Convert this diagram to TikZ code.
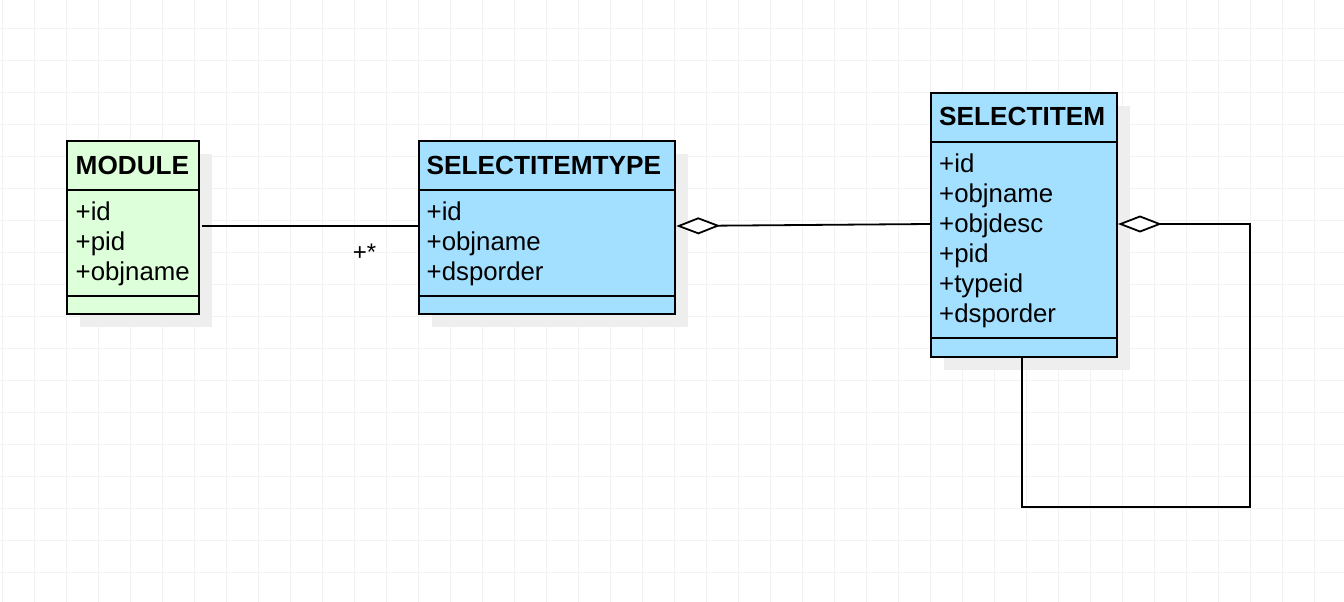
\documentclass[tikz,border=0pt]{standalone}
\usepackage{fontspec}
\setmainfont{Liberation Sans}
\usetikzlibrary{arrows.meta}
\definecolor{gridc}{RGB}{242,242,242}
\definecolor{shadowc}{RGB}{238,238,238}
\definecolor{modfill}{RGB}{221,255,218}
\definecolor{selfill}{RGB}{163,223,255}
\tikzset{
  gridline/.style={draw=gridc, line width=1pt},
  shadowbox/.style={fill=shadowc},
  classbox/.style={draw=black, line width=2pt, inner sep=0pt, anchor=north west},
  divider/.style={draw=black, line width=2pt},
  titletext/.style={font=\fontsize{26.2}{30}\selectfont\bfseries, anchor=base west, inner sep=0pt},
  attrtext/.style={font=\fontsize{25.8}{30}\selectfont, anchor=base west, inner sep=0pt},
  conn/.style={draw=black, line width=1.8pt},
  agg/.style={conn, {Diamond[fill=white, length=44pt, width=17pt, line width=1.8pt]}-},
}
\begin{document}
\begin{tikzpicture}[x=1pt,y=-1pt]
\useasboundingbox (0,0) rectangle (1344,602);
\fill[white] (0,0) rectangle (1344,602);
% grid
\foreach \i in {0,...,41} \draw[gridline] (2.5+32*\i,0) -- (2.5+32*\i,602);
\foreach \j in {0,...,17} \draw[gridline] (0,28.5+32*\j) -- (1344,28.5+32*\j);
% shadows
\fill[shadowbox] (79.7,154) rectangle +(132,173.3);
\fill[shadowbox] (431.7,154) rectangle +(256.6,173.3);
\fill[shadowbox] (944,106.3) rectangle +(186,263.7);
% MODULE
\node[classbox, fill=modfill, minimum width=132pt, minimum height=173.3pt] (module) at (65.7,140) {};
\draw[divider] (module.west |- 0,190.3) -- (module.east |- 0,190.3);
\draw[divider] (module.west |- 0,295.7) -- (module.east |- 0,295.7);
\node[titletext] (moduleT) at (75.5,174) {MODULE};
\node[attrtext] (moduleA1) at (75.5,220) {+id};
\node[attrtext] (moduleA2) at (75.5,250) {+pid};
\node[attrtext] (moduleA3) at (75.5,280) {+objname};
% SELECTITEMTYPE
\node[classbox, fill=selfill, minimum width=256.6pt, minimum height=173.3pt] (sit) at (417.7,140) {};
\draw[divider] (sit.west |- 0,190.3) -- (sit.east |- 0,190.3);
\draw[divider] (sit.west |- 0,295.7) -- (sit.east |- 0,295.7);
\node[titletext] (sitT) at (426.5,174) {SELECTITEMTYPE};
\node[attrtext] (sitA1) at (426.5,220) {+id};
\node[attrtext] (sitA2) at (426.5,250) {+objname};
\node[attrtext] (sitA3) at (426.5,280) {+dsporder};
% SELECTITEM
\node[classbox, fill=selfill, minimum width=186pt, minimum height=263.7pt] (si) at (930,92.3) {};
\draw[divider] (si.west |- 0,141.7) -- (si.east |- 0,141.7);
\draw[divider] (si.west |- 0,337.7) -- (si.east |- 0,337.7);
\node[titletext] (siT) at (939,125) {SELECTITEM};
\node[attrtext] (siA1) at (939,172) {+id};
\node[attrtext] (siA2) at (939,202) {+objname};
\node[attrtext] (siA3) at (939,232) {+objdesc};
\node[attrtext] (siA4) at (939,262) {+pid};
\node[attrtext] (siA5) at (939,292) {+typeid};
\node[attrtext] (siA6) at (939,322) {+dsporder};
% connectors
\draw[conn] ([xshift=2pt]module.east |- 0,226) -- (sit.west |- 0,226);
\node[font=\fontsize{24}{26}\selectfont, inner sep=0pt] (mult) at (364.5,252) {+*};
\draw[agg] (sit.east |- 0,226) -- (si.west |- 0,224);
\coordinate (loopc) at (1250,507);
\draw[agg] (si.east |- 0,224) -| (loopc) -| (si.south -| 1022,0);
\end{tikzpicture}
\end{document}
